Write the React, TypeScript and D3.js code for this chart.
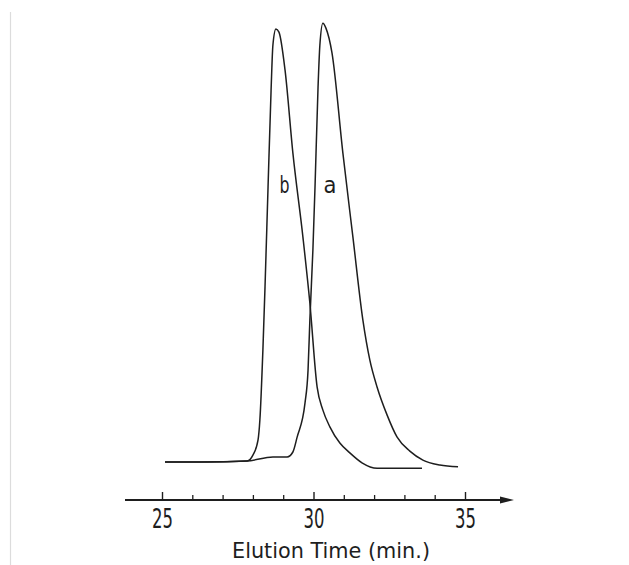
import React, { useEffect, useRef } from "react";
import * as d3 from "d3";

// elution time (min) and detector response (arbitrary units)
const timeA = [25.1, 26.5, 27.8, 28.66, 29.13, 29.32, 29.46, 29.72, 29.82, 29.88, 29.98, 30.05, 30.15, 30.21, 30.31, 30.41, 30.61, 30.97, 31.3, 31.63, 31.86, 32.1, 32.43, 32.76, 33.18, 33.61, 34.17, 34.77];
const respA = [1.8, 1.8, 2.0, 2.9, 2.9, 4.0, 7.3, 14.9, 22.2, 33.3, 48.9, 62.9, 85.1, 94.4, 99.3, 98.2, 92.7, 70.4, 51.8, 33.3, 24.4, 18.4, 12.2, 7.3, 4.2, 2.2, 1.1, 0.7];

const timeB = [25.1, 26.25, 27.81, 28.0, 28.17, 28.23, 28.33, 28.4, 28.5, 28.6, 28.66, 28.76, 28.86, 29.06, 29.32, 29.65, 29.88, 30.12, 30.31, 30.54, 30.87, 31.2, 31.6, 32.1, 33.58];
const respB = [1.8, 1.8, 2.0, 3.3, 6.7, 11.1, 26.7, 40.7, 62.9, 84.4, 94.4, 98.0, 97.3, 88.9, 70.4, 51.8, 37.1, 18.4, 13.3, 9.6, 6.0, 3.8, 1.6, 0.4, 0.4];

const majorTicks = [25, 30, 35];
const minorTicks = [26, 27, 28, 29, 31, 32, 33, 34];

const App = () => {
  const svgRef = useRef<SVGSVGElement>(null);

  useEffect(() => {
    const width = 629;
    const height = 565;
    const svg = d3.select(svgRef.current);
    svg.selectAll("*").remove();
    svg.attr("width", width).attr("height", height).style("background", "#fff");

    const x = d3.scaleLinear().domain([25, 35]).range([162, 465]);
    const y = d3.scaleLinear().domain([0, 100]).range([470, 20]);
    const axisY = 500;
    const ink = "#1e1e1e";
    const font = "'DejaVu Sans', sans-serif";

    // faint scan edge on the left
    svg
      .append("line")
      .attr("x1", 10.5)
      .attr("x2", 10.5)
      .attr("y1", 12)
      .attr("y2", height)
      .attr("stroke", "#dcdcdc")
      .attr("stroke-width", 1.2);

    const series = [
      { t: timeA, r: respA },
      { t: timeB, r: respB },
    ];
    series.forEach((s) => {
      const pts = s.t.map((t, i) => [x(t), y(s.r[i])] as [number, number]);
      svg
        .append("path")
        .attr("d", d3.line().curve(d3.curveMonotoneX)(pts))
        .attr("fill", "none")
        .attr("stroke", ink)
        .attr("stroke-width", 1.5);
    });

    // curve labels
    [
      { t: "b", x: 284.5, w: 10 },
      { t: "a", x: 330, w: 13 },
    ].forEach((d) => {
      svg
        .append("text")
        .attr("x", d.x - d.w / 2)
        .attr("y", 193)
        .attr("textLength", d.w)
        .attr("lengthAdjust", "spacingAndGlyphs")
        .style("font-family", font)
        .style("font-size", "23px")
        .attr("fill", ink)
        .text(d.t);
    });

    // axis line with arrow
    svg
      .append("line")
      .attr("x1", 125)
      .attr("x2", 505)
      .attr("y1", axisY)
      .attr("y2", axisY)
      .attr("stroke", ink)
      .attr("stroke-width", 2);
    svg
      .append("path")
      .attr("d", `M500,${axisY - 3.5}L514,${axisY}L500,${axisY + 3.5}Z`)
      .attr("fill", ink);

    const major = svg
      .append("g")
      .attr("transform", `translate(0,${axisY})`)
      .call(d3.axisBottom(x).tickValues(majorTicks).tickSize(-8).tickSizeOuter(0).tickPadding(9));
    major.select(".domain").remove();
    major.selectAll("line").attr("stroke", ink).attr("stroke-width", 1.4);
    major
      .selectAll("text")
      .style("font-family", font)
      .style("font-size", "27px")
      .attr("textLength", 21)
      .attr("lengthAdjust", "spacingAndGlyphs")
      .attr("fill", ink);

    const minor = svg
      .append("g")
      .attr("transform", `translate(0,${axisY})`)
      .call(d3.axisBottom(x).tickValues(minorTicks).tickSize(-5).tickSizeOuter(0).tickFormat(() => ""));
    minor.select(".domain").remove();
    minor.selectAll("line").attr("stroke", ink).attr("stroke-width", 1.3);

    svg
      .append("text")
      .attr("x", 331)
      .attr("y", 558)
      .attr("text-anchor", "middle")
      .attr("textLength", 198)
      .attr("lengthAdjust", "spacingAndGlyphs")
      .style("font-family", font)
      .style("font-size", "22px")
      .attr("fill", ink)
      .text("Elution Time (min.)");
  }, []);

  return <svg ref={svgRef} style={{ display: "block", position: "absolute", left: 0, top: 0 }}></svg>;
};

export default App;
